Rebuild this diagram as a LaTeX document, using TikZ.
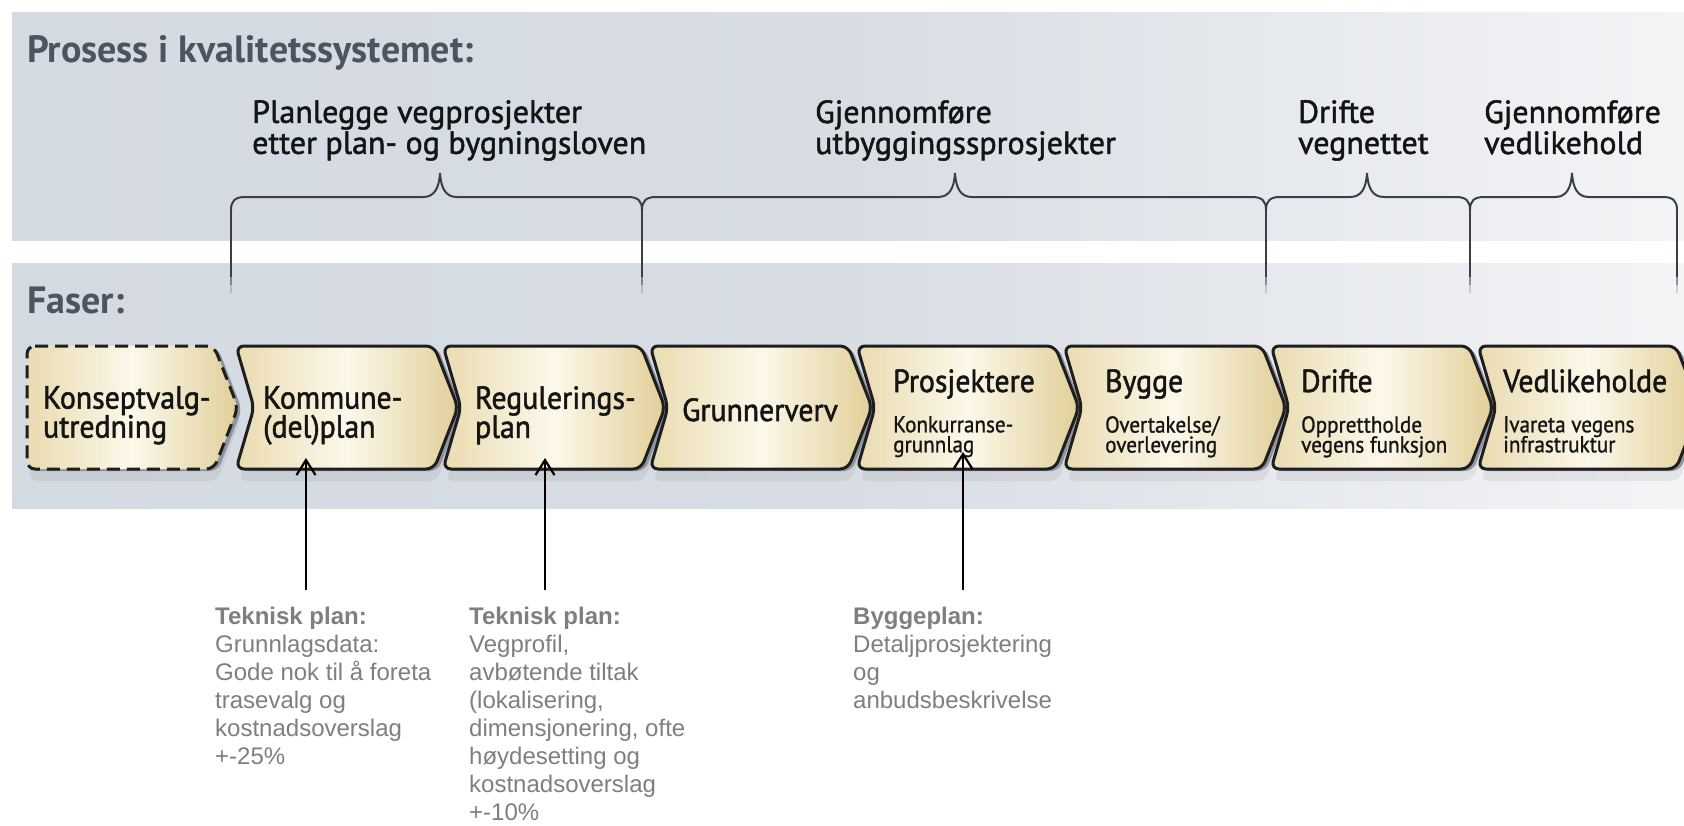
\documentclass[tikz,border=0pt]{standalone}
\usepackage{fontspec}
\setmainfont{Liberation Sans}
\newfontfamily\tfont{PT Sans Bold}
\newfontfamily\hfont[FakeBold=1.5]{PT Sans}
\newfontfamily\cfont[FakeStretch=0.93,FakeBold=1.6]{PT Sans}
\newfontfamily\sfont[FakeStretch=0.92,FakeBold=1]{PT Sans}
\usetikzlibrary{arrows.meta}
\definecolor{bandL}{HTML}{D4DAE2}
\definecolor{bandM}{HTML}{D8DDE4}
\definecolor{bandR}{HTML}{F3F4F6}
\definecolor{titlecol}{HTML}{4A5561}
\definecolor{headcol}{HTML}{141414}
\definecolor{bracecol}{HTML}{3A3F46}
\definecolor{chevL}{HTML}{EADBB0}
\definecolor{chevM}{HTML}{FCF8EA}
\definecolor{chevR}{HTML}{E2CF99}
\definecolor{chevline}{HTML}{1E1E1E}
\definecolor{chevshade}{HTML}{8E959F}
\definecolor{notecol}{HTML}{7F7F7F}
\definecolor{chevtxt}{HTML}{151515}

\newcommand\drawchev[1]{%
  \begin{scope}[shift={(#1,0)}]
    \fill[black,opacity=0.06,rounded corners=8pt] (3,357) -- (201,357) -- (225,419) -- (201,481) -- (3,481) -- (21,419) -- cycle;
    \fill[chevshade,rounded corners=8pt] (4,348) -- (202,348) -- (226,409.5) -- (202,471) -- (4,471) -- (22,409.5) -- cycle;
    \path[chevbox] (0,346) -- (198,346) -- (222,407.5) -- (198,469) -- (0,469) -- (18,407.5) -- cycle;
  \end{scope}}

\newcommand\bracedraw[3]{%
  \draw[brace] (#1,210) .. controls (#1,201) and ({#1+4},197) .. ({#1+14},197)
    -- ({#2-17},197) .. controls ({#2-6},197) and ({#2-1},189) .. (#2,173)
    .. controls ({#2+1},189) and ({#2+6},197) .. ({#2+17},197)
    -- ({#3-14},197) .. controls ({#3-4},197) and (#3,201) .. (#3,210);}

\begin{document}
\lineskiplimit=-100pt
\begin{tikzpicture}[x=1pt,y=-1pt,
  title/.style={font=\tfont\fontsize{38}{44}\selectfont, text=titlecol, inner sep=0pt, anchor=base west},
  head/.style={font=\hfont\fontsize{32}{31}\selectfont, text=headcol, inner sep=0pt, anchor=north west, align=left},
  chevtext/.style={font=\cfont\fontsize{32}{29}\selectfont, text=chevtxt, inner sep=0pt, align=left},
  chevsub/.style={font=\sfont\fontsize{23}{20}\selectfont, text=chevtxt, inner sep=0pt, anchor=north west, align=left},
  note/.style={font=\fontsize{24}{28}\selectfont, text=notecol, inner sep=0pt, anchor=north west, align=left},
  arr/.style={line width=2.5pt, draw=black, -{Straight Barb[length=15pt,width=19pt,line width=2.2pt]}},
  brace/.style={draw=bracecol, line width=2pt},
  chevbox/.style={draw=chevline, line width=3pt, rounded corners=8pt, left color=chevL, right color=chevR, middle color=chevM},
]
\useasboundingbox (0,0) rectangle (1684,825);
\fill[white] (0,0) rectangle (1684,825);

% bands
\shade[left color=bandL, right color=bandR, middle color=bandM] (12,12) rectangle (1684,240);
\shade[left color=bandL, right color=bandR, middle color=bandM] (12,263) rectangle (1684,508);

% titles
\node[title] (tit) at (27,62) {Prosess i kvalitetssystemet:};
\node[title] (fas) at (27,313) {Faser:};

% process headings
\node[head] (h1) at (252,100) {Planlegge vegprosjekter\\etter plan- og bygningsloven};
\node[head] (h2) at (815,100) {Gjennomføre\\utbyggingssprosjekter};
\node[head] (h3) at (1298,100) {Drifte\\vegnettet};
\node[head] (h4) at (1484,100) {Gjennomføre\\vedlikehold};

% braces
\bracedraw{231}{440}{642}
\bracedraw{642}{955}{1266}
\bracedraw{1266}{1367}{1470}
\bracedraw{1470}{1572}{1677}
\foreach \x in {231,642,1266,1470,1677} {
  \draw[brace] (\x,209) -- (\x,277);
  \draw[brace,opacity=.55] (\x,277) -- (\x,285);
  \draw[brace,opacity=.2] (\x,285) -- (\x,293);
}

% chevrons
\fill[black,opacity=0.06,rounded corners=8pt] (30,357) -- (217,357) -- (241,419) -- (217,481) -- (30,481) -- cycle;
\fill[chevshade,rounded corners=8pt] (31,348) -- (218,348) -- (242,409.5) -- (218,471) -- (31,471) -- cycle;
\path[chevbox,dash pattern=on 13pt off 7pt] (27,346) -- (214,346) -- (238,407.5) -- (214,469) -- (27,469) -- cycle;
\foreach \x in {236,443,650,857,1064,1271,1478} {\drawchev{\x}}

% chevron texts
\node[chevtext,anchor=north west] (c1) at (43,386) {Konseptvalg-\\utredning};
\node[chevtext,anchor=north west] (c2) at (263,386) {Kommune-\\(del)plan};
\node[chevtext,anchor=north west] (c3) at (475,386) {Regulerings-\\plan};
\node[chevtext,anchor=base west] (c4) at (682,421) {Grunnerverv};
\node[chevtext,anchor=base west] (c5) at (893,392) {Prosjektere};
\node[chevsub] (s5) at (893,416) {Konkurranse-\\grunnlag};
\node[chevtext,anchor=base west] (c6) at (1105,392) {Bygge};
\node[chevsub] (s6) at (1105,416) {Overtakelse/\\overlevering};
\node[chevtext,anchor=base west] (c7) at (1301,392) {Drifte};
\node[chevsub] (s7) at (1301,416) {Opprettholde\\vegens funksjon};
\node[chevtext,anchor=base west] (c8) at (1503,392) {Vedlikeholde};
\node[chevsub] (s8) at (1503,416) {Ivareta vegens\\infrastruktur};

% notes
\node[note] (n1) at (215,606.5) {\textbf{Teknisk plan:}\\Grunnlagsdata:\\Gode nok til å foreta\\trasevalg og\\kostnadsoverslag\\+-25\%};
\node[note] (n2) at (469,606.5) {\textbf{Teknisk plan:}\\Vegprofil,\\avbøtende tiltak\\(lokalisering,\\dimensjonering, ofte\\høydesetting og\\kostnadsoverslag\\+-10\%};
\node[note] (n3) at (853,606.5) {\textbf{Byggeplan:}\\Detaljprosjektering\\og\\anbudsbeskrivelse};

% arrows
\coordinate (p1) at (306,590); \coordinate (q1) at (306,458);
\coordinate (p2) at (545,590); \coordinate (q2) at (545,458);
\coordinate (p3) at (963,590); \coordinate (q3) at (963,452);
\draw[arr] (p1) -- (q1);
\draw[arr] (p2) -- (q2);
\draw[arr] (p3) -- (q3);
\end{tikzpicture}
\end{document}
